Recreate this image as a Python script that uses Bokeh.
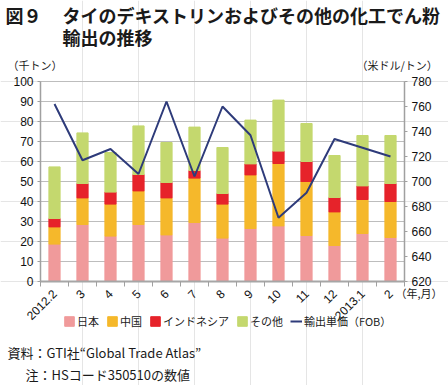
import math
from bokeh.plotting import figure
from bokeh.models import (Range1d, LinearAxis, FixedTicker, Legend, LegendItem,
                          Label, ColumnDataSource, Grid)
from bokeh.embed import file_html
from bokeh.resources import INLINE

# ---- data ----
months = ["2012.2", "3", "4", "5", "6", "7", "8", "9", "10", "11", "12", "2013.1", "2"]
japan = [18.7, 28.5, 22.7, 28.5, 23.3, 29.5, 21.7, 26.5, 27.8, 23.0, 18.0, 24.0, 22.0]
china = [8.6, 13.3, 16.0, 16.8, 18.5, 22.2, 17.0, 26.8, 31.2, 27.0, 16.8, 17.0, 18.0]
indonesia = [4.2, 7.2, 6.0, 8.2, 7.7, 3.8, 5.3, 5.5, 6.2, 10.0, 7.2, 6.8, 9.0]
others = [25.8, 25.3, 19.8, 24.3, 20.0, 21.7, 23.0, 21.9, 25.5, 19.0, 21.0, 25.2, 24.0]
price = [762, 717, 726, 706, 764, 704, 760, 737, 671, 691, 734, 727, 720]

series_names = ["日本", "中国", "インドネシア", "その他"]
line_name = "輸出単価（FOB）"
left_ticks = list(range(0, 101, 10))
right_ticks = list(range(620, 781, 20))

JP = "Noto Sans CJK JP"
NUM = "Liberation Sans"
colors = ["#F09A9B", "#F5B82B", "#E6232A", "#C4D86E"]
line_color = "#2E3B7A"
axis_grey = "#A0A0A0"

# ---- pixel layout (canvas covers the whole window; chart box inside) ----
W, H = 448, 385
L, R, T, B = 40, 404, 81, 281          # chart box in canvas pixels
n = len(months)
kx = (R - L) / n                        # px per category
ky = (B - T) / (left_ticks[-1] - left_ticks[0])
kr = (B - T) / (right_ticks[-1] - right_ticks[0])
x0 = 0.5 - L / kx
x1 = x0 + W / kx
y0 = left_ticks[0] - (H - B) / ky
y1 = left_ticks[-1] + T / ky
r0 = right_ticks[0] - (H - B) / kr
r1 = right_ticks[-1] + T / kr
eps = 1e-3

xs = list(range(1, n + 1))
src = ColumnDataSource(dict(x=xs, japan=japan, china=china, indonesia=indonesia,
                            others=others, price=price))

p = figure(width=W, height=H, output_backend="svg", toolbar_location=None,
           x_range=Range1d(x0, x1), y_range=Range1d(y0, y1),
           x_axis_location=None, y_axis_location=None,
           min_border=0)
p.outline_line_color = None
p.background_fill_color = "white"
p.border_fill_color = "white"
p.extra_y_ranges = {"price": Range1d(r0, r1)}

# grid
grid = Grid(dimension=1, ticker=FixedTicker(ticks=left_ticks),
            bounds=(left_ticks[0] - eps, left_ticks[-1] + eps),
            cross_bounds=(0.5, n + 0.5),
            grid_line_color="#BDBDBD", grid_line_width=1.2)
p.add_layout(grid)

bars = p.vbar_stack(["japan", "china", "indonesia", "others"], x="x", width=0.4,
                    color=colors, source=src)
ln = p.line(x="x", y="price", source=src, y_range_name="price",
            line_color=line_color, line_width=2)

def style_y(ax):
    ax.axis_line_color = axis_grey
    ax.axis_line_width = 1.5
    ax.major_tick_line_color = axis_grey
    ax.major_tick_out = 3
    ax.major_tick_in = 0
    ax.minor_tick_line_color = None
    ax.major_label_text_font = NUM
    ax.major_label_text_font_size = "12px"
    ax.major_label_text_color = "#111111"
    ax.major_label_standoff = 4

ya = LinearAxis(ticker=FixedTicker(ticks=left_ticks), fixed_location=0.5,
                bounds=(left_ticks[0] - eps, left_ticks[-1] + eps))
style_y(ya)
p.add_layout(ya, "left")

ra = LinearAxis(y_range_name="price", ticker=FixedTicker(ticks=right_ticks),
                fixed_location=n + 0.5,
                bounds=(right_ticks[0] - eps, right_ticks[-1] + eps))
style_y(ra)
p.add_layout(ra, "right")

xa = LinearAxis(ticker=FixedTicker(ticks=xs, minor_ticks=[i + 0.5 for i in range(n + 1)]),
                fixed_location=left_ticks[0], bounds=(0.5 - eps, n + 0.5 + eps))
xa.major_label_overrides = {x: m for x, m in zip(xs, months)}
xa.major_label_orientation = math.pi / 4
xa.major_tick_line_color = None
xa.minor_tick_line_color = axis_grey
xa.minor_tick_out = 5
xa.minor_tick_in = 0
xa.axis_line_color = "#A6A6A6"
xa.axis_line_width = 2
xa.major_label_text_font = NUM
xa.major_label_text_font_size = "12px"
xa.major_label_text_color = "#111111"
xa.major_label_standoff = 4
p.add_layout(xa, "below")

# legend
items = [LegendItem(label=nm, renderers=[r]) for nm, r in zip(series_names, bars)]
items.append(LegendItem(label=line_name, renderers=[ln]))
leg = Legend(items=items, orientation="horizontal", location=(63, H - 329),
             glyph_width=12, glyph_height=12, label_height=12, label_standoff=2,
             spacing=7, padding=0, margin=0, border_line_color=None,
             background_fill_alpha=0, label_text_font=JP,
             label_text_font_size="11px", label_text_color="#222222")
p.add_layout(leg, "center")

def lab(text, X, Y, size, bold=False, align="left", font=JP):
    p.add_layout(Label(x=X, y=H - Y, x_units="screen", y_units="screen",
                       text=text, text_font=font, text_font_size=size,
                       text_font_style="bold" if bold else "normal",
                       text_align=align, text_baseline="middle",
                       text_color="#1A1A1A"))

lab("図９", 5, 14, "18px", bold=True)
lab("タイのデキストリンおよびその他の化工でん粉", 62, 14, "18px", bold=True)
lab("輸出の推移", 62, 36, "18px", bold=True)
lab("（千トン）", 7, 64, "11px")
lab("（米ドル/トン）", 356, 64, "11px")
lab("（年,月）", 395, 292, "11px")
lab("資料：GTI社“Global Trade Atlas”", 7, 352, "13px")
lab("注：HSコード350510の数値", 25, 374, "13px")

open("out.html", "w").write(file_html(p, INLINE))
